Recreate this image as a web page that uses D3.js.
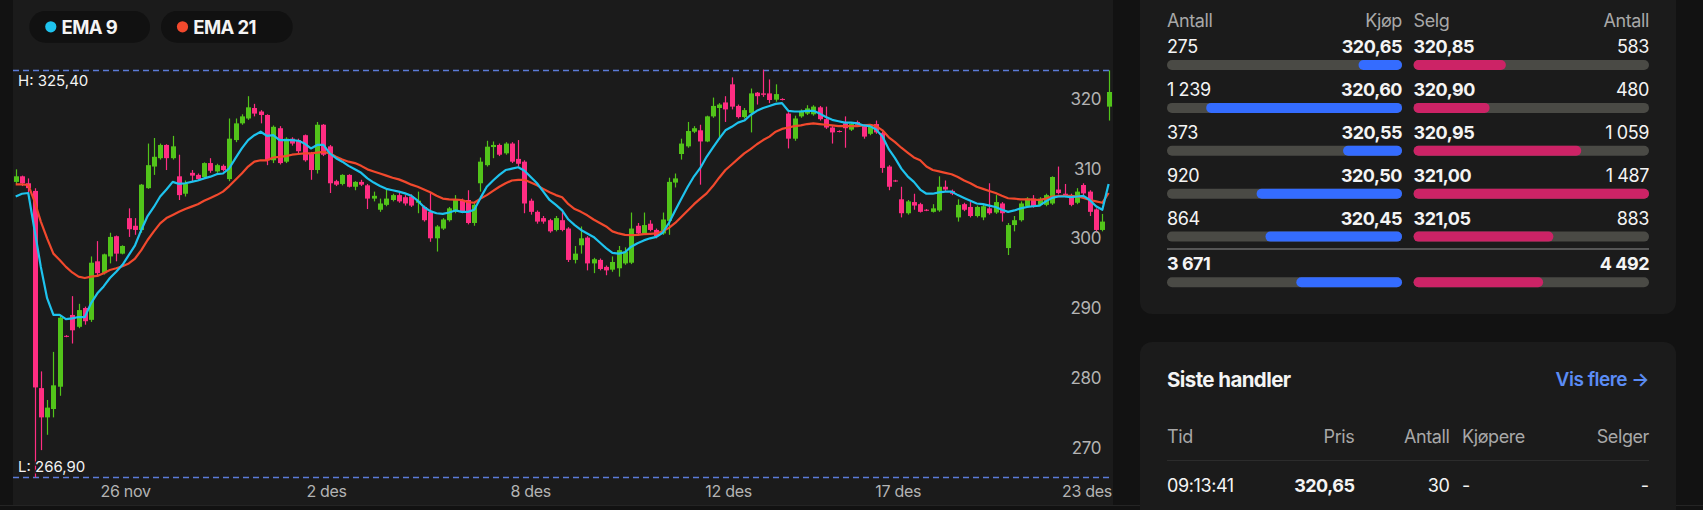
<!DOCTYPE html>
<html><head><meta charset="utf-8">
<script src="https://cdn.jsdelivr.net/npm/d3@7"></script>
<style>
html,body{margin:0;padding:0;background:#121212;overflow:hidden;}
svg{display:block;font-family:Inter,"Noto Sans",sans-serif;}
</style></head>
<body><svg id="c" width="1703" height="510"></svg>
<script>
// ---------- DATA ----------
const opens=[309.3,310.1,309.1,308.0,279.7,275.5,276.7,279.9,287.2,290.2,288.5,291.2,289.5,297.9,296.2,298.6,301.5,299.0,304.1,303.0,
302.4,308.4,311.5,312.7,314.6,312.7,310.1,307.6,310.6,310.3,310.0,312.0,310.8,311.6,309.7,315.3,317.7,318.4,319.9,319.4,
318.9,312.4,317.0,312.2,315.5,315.3,316.0,313.4,311.0,317.5,314.4,309.4,309.0,310.3,308.6,309.3,308.8,306.9,305.3,306.0,
306.7,307.4,307.1,307.2,306.3,305.7,305.0,301.2,302.6,303.8,305.0,306.7,306.7,303.4,309.1,311.7,314.3,314.6,313.4,314.8,
312.6,312.2,306.6,305.0,304.1,303.8,302.4,303.8,302.6,298.1,300.2,301.3,297.6,298.1,297.1,296.7,296.9,297.6,297.7,303.0,
301.9,303.3,302.4,301.9,303.7,309.2,313.3,314.4,316.5,316.7,315.1,318.7,319.9,320.7,323.3,320.2,318.6,319.2,322.1,322.0,
322.0,321.1,321.2,319.1,315.5,318.7,319.1,319.0,320.0,318.3,317.1,316.6,317.7,316.8,317.9,317.3,316.2,317.6,316.3,311.5,
309.5,306.8,304.8,306.4,306.1,305.3,305.0,305.2,308.6,308.0,304.2,306.1,305.7,304.4,304.2,305.5,304.9,306.2,299.8,303.1,
303.8,305.8,306.9,306.0,306.0,306.2,308.2,307.6,307.4,306.3,308.85,307.9,305.35,302.4,320.1];
const highs=[311.1,310.2,309.8,308.4,282.1,278.0,284.9,290.2,287.3,292.9,291.8,291.4,298.6,300.8,299.0,302.0,301.6,300.2,305.5,304.1,
309.0,314.8,315.6,314.8,314.7,315.9,313.2,309.5,311.0,310.5,312.1,312.7,311.9,311.8,318.4,318.4,319.0,321.6,320.5,319.6,
319.0,317.4,317.3,315.7,315.7,315.5,316.1,313.6,317.9,317.6,314.6,309.6,310.4,310.4,309.4,309.6,309.0,307.9,306.9,308.4,
307.6,307.7,307.4,307.5,307.9,305.9,307.7,303.1,304.1,305.7,307.4,306.9,308.1,306.3,312.8,315.2,315.1,314.8,315.0,315.0,
315.3,312.4,306.9,305.2,304.4,304.0,304.4,305.0,302.8,300.1,302.9,301.5,298.4,298.3,297.3,298.6,300.1,299.9,304.9,303.4,
304.9,303.8,302.6,304.9,309.9,310.5,315.5,317.9,317.3,317.5,318.8,321.4,320.6,321.6,324.3,320.4,319.9,322.7,322.2,325.4,
324.0,323.3,321.3,319.3,318.8,319.7,320.3,320.3,320.2,320.1,317.3,316.7,318.7,317.8,318.1,317.5,317.5,318.1,316.5,311.7,
309.6,308.6,306.7,307.6,306.3,305.4,306.1,310.1,309.5,308.2,306.8,306.3,306.4,305.9,306.0,309.1,307.4,306.4,303.4,304.4,
306.5,307.1,307.4,307.1,307.6,310.1,311.5,309.0,307.6,308.4,309.1,308.1,305.5,304.7,325.3];
const lows=[309.0,308.7,307.7,266.9,270.8,273.0,275.5,278.6,287.0,286.1,288.3,288.8,289.2,295.7,296.0,297.6,297.9,298.9,301.4,301.7,
302.0,308.3,310.3,312.5,311.0,312.5,306.7,307.2,309.4,309.5,309.9,310.6,310.6,310.8,309.4,315.0,317.5,318.2,318.7,317.7,
311.7,312.0,311.8,312.0,314.5,313.3,312.2,309.6,310.5,313.0,307.7,308.7,308.8,308.5,308.1,308.7,305.4,306.5,305.0,305.8,
306.5,306.3,305.9,305.7,304.8,303.6,300.7,299.3,302.4,303.6,304.8,304.8,303.2,303.0,307.9,311.5,312.7,313.0,313.2,312.0,
311.5,304.8,304.6,303.3,303.3,302.0,302.2,302.2,297.8,297.6,299.0,296.6,296.2,296.6,295.9,296.4,295.7,297.4,297.5,301.6,
301.7,302.2,301.2,301.7,301.7,308.5,312.5,314.2,316.3,308.9,315.0,318.5,315.5,317.9,319.7,318.4,318.4,316.4,320.4,321.5,
320.6,320.8,321.0,314.1,315.2,318.5,318.9,318.8,318.1,316.9,314.8,316.4,314.2,316.6,317.3,315.5,316.0,316.2,310.6,308.1,
309.3,304.2,304.6,305.3,304.9,305.1,304.9,305.0,308.0,307.4,303.6,305.1,304.2,304.2,303.8,304.6,304.7,303.6,298.8,302.2,
303.6,305.6,305.6,305.8,305.8,306.0,307.5,307.1,305.8,306.1,307.4,304.4,302.2,302.2,318.1];
const closes=[310.1,309.1,308.4,279.8,275.5,276.9,280.1,289.8,287.1,288.0,290.9,289.3,297.7,296.2,298.9,301.4,299.0,300.1,302.5,302.4,
308.9,311.7,312.9,314.6,312.7,314.4,307.4,309.0,310.2,309.7,312.0,310.9,311.7,311.0,315.5,317.7,318.7,320.0,319.1,318.9,
312.4,317.2,312.0,315.5,314.8,313.7,312.4,311.0,317.5,313.2,309.1,308.9,310.3,308.6,309.3,308.9,306.9,307.3,306.2,306.9,
307.4,306.5,306.2,305.9,306.6,303.8,301.2,302.9,303.9,305.5,306.7,305.0,303.4,306.0,312.2,314.35,314.6,313.2,314.8,312.2,
311.9,306.2,305.0,303.6,303.6,302.2,304.1,302.4,298.1,299.0,301.2,297.6,298.2,296.8,296.6,297.8,299.5,299.3,302.6,301.9,
303.1,302.4,301.5,303.9,309.3,309.8,314.8,316.6,317.0,315.1,318.7,320.2,320.4,319.7,320.1,318.6,319.6,322.0,321.6,321.8,
321.05,321.9,321.1,315.5,318.4,319.5,319.85,320.1,318.3,317.1,316.4,316.5,317.0,317.6,317.5,315.8,317.3,316.4,311.3,308.6,
309.4,304.8,306.5,305.9,305.0,305.2,305.5,308.6,308.2,307.6,306.0,305.3,304.4,305.7,305.8,304.8,306.4,304.8,303.1,303.8,
306.2,306.9,305.8,306.9,307.4,310.0,307.7,307.3,306.0,307.9,307.65,305.0,302.4,303.6,322.2];
const ema9=[307.2,307.6,307.7,302.4,297.1,292.6,290.2,290.2,289.6,289.7,289.9,289.9,291.9,293.3,294.3,295.5,296.4,297.4,298.8,300.2,
302.4,304.4,305.7,307.2,308.2,309.3,309.0,309.1,309.3,309.5,309.8,310.05,310.4,310.5,311.25,312.7,314.1,315.3,316.0,316.5,
315.9,316.0,315.3,315.3,315.3,315.2,314.8,314.1,314.6,314.6,313.4,312.7,312.2,311.6,311.1,310.6,309.8,309.2,308.7,308.3,
308.1,307.9,307.65,307.3,306.6,305.7,305.1,304.8,304.7,304.9,305.2,305.0,305.0,305.3,307.0,308.6,309.5,310.3,311.0,311.2,
311.4,310.9,310.0,309.1,307.9,306.7,306.0,305.2,303.9,303.1,302.4,301.9,301.4,300.6,299.8,299.1,299.0,299.2,300.0,300.5,
300.9,301.2,301.4,302.0,303.4,305.2,306.9,308.6,310.1,311.3,312.9,314.2,315.5,316.7,317.2,317.8,318.1,318.9,319.5,319.9,
320.2,320.5,320.6,319.5,319.4,319.4,319.5,319.5,319.1,318.6,318.2,318.0,317.8,317.8,317.7,317.4,317.3,316.8,315.8,314.0,
312.7,311.2,310.1,309.3,308.2,307.6,307.6,307.8,307.9,307.9,307.4,307.0,306.6,306.2,306.1,305.9,305.7,305.3,305.0,305.2,
305.5,305.7,305.8,305.9,306.5,307.0,307.2,307.2,307.1,307.2,307.3,306.7,305.8,305.3,309.0];
const ema21=[308.95,308.95,308.85,306.5,303.6,301.2,299.0,298.1,297.1,296.3,295.7,295.5,295.7,295.8,296.2,296.65,296.9,297.2,297.6,298.3,
299.5,300.96,302.2,303.35,304.1,304.55,305.0,305.4,305.75,306.1,306.6,307.0,307.4,307.9,308.7,309.6,310.5,311.5,312.2,312.4,
312.4,312.8,312.9,313.0,313.2,313.3,313.4,313.4,313.5,313.6,313.4,312.9,312.5,312.2,312.0,311.6,311.1,310.8,310.5,310.2,
309.9,309.66,309.3,308.9,308.6,308.2,307.8,307.3,306.9,306.8,306.75,306.7,306.4,306.3,306.9,307.4,308.0,308.6,309.1,309.5,
309.6,309.6,309.2,308.8,308.3,307.8,307.4,307.1,306.1,305.4,305.0,304.5,303.9,303.4,302.9,302.2,301.9,301.7,301.67,301.7,
301.8,301.85,301.9,302.2,302.7,303.4,304.3,305.2,306.1,306.9,307.65,308.7,309.9,311.0,311.8,312.6,313.4,314.0,314.7,315.3,
315.8,316.5,316.9,317.1,317.3,317.4,317.6,317.7,317.6,317.5,317.4,317.3,317.3,317.3,317.3,317.4,317.5,317.3,316.7,315.7,
315.0,314.2,313.5,312.8,312.4,311.5,311.0,310.8,310.6,310.4,310.0,309.5,309.1,308.6,308.3,308.0,307.7,307.3,306.95,306.9,
306.8,306.8,306.75,306.7,306.9,307.2,307.25,307.3,307.3,307.2,307.0,306.7,306.5,306.3,307.7];
const seriesNames=["EMA 9","EMA 21"];
const xTickLabels=["26 nov","2 des","8 des","12 des","17 des","23 des"];
const xTickIndex=[17.5,49.5,82,113.5,140.5,172.5];
const yTicks=[270,280,290,300,310,320];
const highValue=325.40, lowValue=266.90;

const bidQty=[275,1239,373,920,864];
const bidPrice=[320.65,320.60,320.55,320.50,320.45];
const askPrice=[320.85,320.90,320.95,321.00,321.05];
const askQty=[583,480,1059,1487,883];

const tradeTime=["09:13:41"];
const tradePrice=[320.65];
const tradeQty=[30];
const tradeBuyer=["-"];
const tradeSeller=["-"];

// ---------- STYLE ----------
const C={page:"#121212",panel:"#1b1b1b",pill:"#111111",up:"#52c41a",down:"#ff2d82",
 ema9:"#1ec3ee",ema21:"#f2492d",dash:"#5b7bd8",axis:"#b4b4b4",text:"#f4f4f4",muted:"#a8a8a8",
 blue:"#346cff",pink:"#cc2366",track:"#4a4a45",link:"#5b8cf5"};

const loc=d3.formatLocale({decimal:",",thousands:"\u00a0",grouping:[3],currency:["","kr"]});
const fPrice=loc.format(",.2f"), fQty=loc.format(",d"), fInt=loc.format("d");

const svg=d3.select("#c");
svg.append("rect").attr("width",1703).attr("height",510).attr("fill",C.page);

// ---------- CHART ----------
const P={left:13,right:1113,top:0,bottom:505};
svg.append("rect").attr("x",P.left).attr("y",P.top).attr("width",P.right-P.left).attr("height",P.bottom-P.top).attr("fill",C.panel);
svg.append("line").attr("x1",0).attr("x2",1703).attr("y1",505.5).attr("y2",505.5).attr("stroke","#242424");

const x=d3.scaleLinear().domain([0,closes.length-1]).range([15.7,1108.6]);
const y=d3.scaleLinear().domain([lowValue,highValue]).range([477.3,69.7]);

svg.append("clipPath").attr("id","clip").append("rect")
 .attr("x",P.left).attr("y",P.top).attr("width",P.right-P.left).attr("height",P.bottom-P.top);
const g=svg.append("g").attr("clip-path","url(#clip)");

// H / L lines
[highValue,lowValue].forEach(v=>{
 g.append("line").attr("x1",P.left).attr("x2",P.right)
  .attr("y1",Math.round(y(v))+0.5).attr("y2",Math.round(y(v))+0.5)
  .attr("stroke",C.dash).attr("stroke-width",1.6).attr("stroke-dasharray","6,4");
});

// y tick labels
g.selectAll("text.yt").data(yTicks).join("text").attr("class","yt")
 .attr("x",1101).attr("y",d=>y(d)-2.2).attr("text-anchor","end")
 .attr("fill",C.axis).attr("font-size",17).attr("letter-spacing",-0.4).text(d=>fInt(d));

// candles
const idx=d3.range(closes.length);
const cg=g.append("g");
cg.selectAll("line.wick").data(idx).join("line").attr("class","wick")
 .attr("x1",i=>Math.round(x(i))+0.5).attr("x2",i=>Math.round(x(i))+0.5)
 .attr("y1",i=>y(highs[i])).attr("y2",i=>y(lows[i]))
 .attr("stroke",i=>closes[i]>=opens[i]?C.up:C.down).attr("stroke-width",1.2);
cg.selectAll("rect.body").data(idx).join("rect").attr("class","body")
 .attr("x",i=>Math.round(x(i))-2).attr("width",5)
 .attr("y",i=>y(Math.max(opens[i],closes[i])))
 .attr("height",i=>Math.max(1,Math.abs(y(opens[i])-y(closes[i]))))
 .attr("fill",i=>closes[i]>=opens[i]?C.up:C.down);

// EMA lines
const line=d3.line().x((d,i)=>x(i)).y(d=>y(d));
g.append("path").datum(ema21).attr("d",line).attr("fill","none").attr("stroke",C.ema21).attr("stroke-width",2.2).attr("stroke-linejoin","round");
g.append("path").datum(ema9).attr("d",line).attr("fill","none").attr("stroke",C.ema9).attr("stroke-width",2.2).attr("stroke-linejoin","round");

// H / L labels
g.append("text").attr("x",18).attr("y",y(highValue)+16.5).attr("fill",C.text).attr("font-size",15)
 .attr("stroke",C.panel).attr("stroke-width",3).attr("paint-order","stroke").text("H: "+fPrice(highValue));
g.append("text").attr("x",18).attr("y",y(lowValue)-5.8).attr("fill",C.text).attr("font-size",15)
 .attr("stroke",C.panel).attr("stroke-width",3).attr("paint-order","stroke").text("L: "+fPrice(lowValue));

// x tick labels (clamped inside the plot)
const xt=g.selectAll("text.xt").data(xTickLabels).join("text").attr("class","xt")
 .attr("y",497).attr("text-anchor","middle").attr("fill",C.axis).attr("font-size",16).attr("letter-spacing",-0.3)
 .text(d=>d);
xt.each(function(d,i){
 const w=this.getComputedTextLength();
 let cx=x(xTickIndex[i]);
 cx=Math.min(cx,P.right-1-w/2);
 d3.select(this).attr("x",cx);
});

// legend pills
const pills=[{x:29.3,w:120.7,c:C.ema9},{x:161,w:131.7,c:C.ema21}];
pills.forEach((p,k)=>{
 svg.append("rect").attr("x",p.x).attr("y",11).attr("width",p.w).attr("height",31.7).attr("rx",15.8).attr("fill",C.pill);
 svg.append("circle").attr("cx",p.x+21.5).attr("cy",26.8).attr("r",5.6).attr("fill",p.c);
 svg.append("text").attr("x",p.x+32.3).attr("y",33.6).attr("fill",C.text).attr("font-size",18.5)
  .attr("font-weight",700).attr("letter-spacing",-0.6).text(seriesNames[k]);
});

// ---------- ORDER BOOK CARD ----------
svg.append("rect").attr("x",1140).attr("y",-20).attr("width",536).attr("height",334).attr("rx",12).attr("fill",C.panel);
const OB={l:1167,m1:1402,m2:1413.6,r:1649};
const trackW=OB.m1-OB.l;
const hdr=[{t:"Antall",x:OB.l,a:"start"},{t:"Kjøp",x:OB.m1,a:"end"},{t:"Selg",x:OB.m2,a:"start"},{t:"Antall",x:OB.r,a:"end"}];
hdr.forEach(h=>svg.append("text").attr("x",h.x).attr("y",26.5).attr("text-anchor",h.a)
 .attr("fill",C.muted).attr("font-size",18).attr("letter-spacing",-0.4).text(h.t));

const qMax=d3.max(bidQty.concat(askQty));
const qs=d3.scaleLinear().domain([0,qMax]).range([0,trackW]);
const rowY=d3.scaleLinear().domain([0,1]).range([46.6,89.5]);
const ob=svg.append("g");
bidQty.forEach((q,i)=>{
 const cy=rowY(i);
 ob.append("text").attr("x",OB.l).attr("y",cy+6.5).attr("fill",C.text).attr("font-size",18).attr("letter-spacing",-0.4).text(fQty(q));
 ob.append("text").attr("x",OB.m1).attr("y",cy+6.5).attr("text-anchor","end").attr("fill",C.text).attr("font-size",18).attr("font-weight",700).attr("letter-spacing",-0.5).text(fPrice(bidPrice[i]));
 ob.append("text").attr("x",OB.m2).attr("y",cy+6.5).attr("fill",C.text).attr("font-size",18).attr("font-weight",700).attr("letter-spacing",-0.5).text(fPrice(askPrice[i]));
 ob.append("text").attr("x",OB.r).attr("y",cy+6.5).attr("text-anchor","end").attr("fill",C.text).attr("font-size",18).attr("letter-spacing",-0.4).text(fQty(askQty[i]));
 const by=cy+13.4;
 ob.append("rect").attr("x",OB.l).attr("y",by).attr("width",trackW).attr("height",10).attr("rx",5).attr("fill",C.track);
 ob.append("rect").attr("x",OB.m2).attr("y",by).attr("width",OB.r-OB.m2).attr("height",10).attr("rx",5).attr("fill",C.track);
 const bw=Math.max(10,qs(q));
 ob.append("rect").attr("x",OB.m1-bw).attr("y",by).attr("width",bw).attr("height",10).attr("rx",5).attr("fill",C.blue);
 const aw=Math.max(10,qs(askQty[i])*(OB.r-OB.m2)/trackW);
 ob.append("rect").attr("x",OB.m2).attr("y",by).attr("width",aw).attr("height",10).attr("rx",5).attr("fill",C.pink);
});
svg.append("line").attr("x1",OB.l).attr("x2",OB.r).attr("y1",249).attr("y2",249).attr("stroke","#6a6a6a").attr("stroke-width",1.5);
const bidTot=d3.sum(bidQty), askTot=d3.sum(askQty);
const ts=d3.scaleLinear().domain([0,bidTot+askTot]).range([0,trackW]);
svg.append("text").attr("x",OB.l).attr("y",269.8).attr("fill",C.text).attr("font-size",18).attr("font-weight",700).attr("letter-spacing",-0.5).text(fQty(bidTot));
svg.append("text").attr("x",OB.r).attr("y",269.8).attr("text-anchor","end").attr("fill",C.text).attr("font-size",18).attr("font-weight",700).attr("letter-spacing",-0.5).text(fQty(askTot));
svg.append("rect").attr("x",OB.l).attr("y",277.3).attr("width",trackW).attr("height",10).attr("rx",5).attr("fill",C.track);
svg.append("rect").attr("x",OB.m2).attr("y",277.3).attr("width",OB.r-OB.m2).attr("height",10).attr("rx",5).attr("fill",C.track);
svg.append("rect").attr("x",OB.m1-ts(bidTot)).attr("y",277.3).attr("width",ts(bidTot)).attr("height",10).attr("rx",5).attr("fill",C.blue);
svg.append("rect").attr("x",OB.m2).attr("y",277.3).attr("width",ts(askTot)*(OB.r-OB.m2)/trackW).attr("height",10).attr("rx",5).attr("fill",C.pink);

// ---------- TRADES CARD ----------
svg.append("rect").attr("x",1140).attr("y",342).attr("width",536).attr("height",200).attr("rx",12).attr("fill",C.panel);
svg.append("text").attr("x",OB.l).attr("y",386.5).attr("fill",C.text).attr("font-size",20.5).attr("font-weight",700).attr("letter-spacing",-0.6).text("Siste handler");
svg.append("text").attr("x",OB.r).attr("y",386).attr("text-anchor","end").attr("fill",C.link).attr("font-size",19).attr("font-weight",600).attr("letter-spacing",-0.5).text("Vis flere \u2192");
const cols=[{t:"Tid",x:OB.l,a:"start"},{t:"Pris",x:1354.4,a:"end"},{t:"Antall",x:1449.5,a:"end"},{t:"Kjøpere",x:1462,a:"start"},{t:"Selger",x:OB.r,a:"end"}];
cols.forEach(c=>svg.append("text").attr("x",c.x).attr("y",443).attr("text-anchor",c.a).attr("fill",C.muted).attr("font-size",18).attr("letter-spacing",-0.4).text(c.t));
svg.append("line").attr("x1",OB.l).attr("x2",OB.r).attr("y1",460.5).attr("y2",460.5).attr("stroke","#2c2c2c");
tradeTime.forEach((t,i)=>{
 const by=491.5+i*48;
 svg.append("text").attr("x",OB.l).attr("y",by).attr("fill",C.text).attr("font-size",18).attr("letter-spacing",-0.4).text(t);
 svg.append("text").attr("x",1354.4).attr("y",by).attr("text-anchor","end").attr("fill",C.text).attr("font-size",18).attr("font-weight",700).attr("letter-spacing",-0.5).text(fPrice(tradePrice[i]));
 svg.append("text").attr("x",1449.5).attr("y",by).attr("text-anchor","end").attr("fill",C.text).attr("font-size",18).attr("letter-spacing",-0.4).text(fQty(tradeQty[i]));
 svg.append("text").attr("x",1462).attr("y",by).attr("fill",C.text).attr("font-size",18).text(tradeBuyer[i]);
 svg.append("text").attr("x",OB.r).attr("y",by).attr("text-anchor","end").attr("fill",C.text).attr("font-size",18).text(tradeSeller[i]);
});
</script>
</body></html>
